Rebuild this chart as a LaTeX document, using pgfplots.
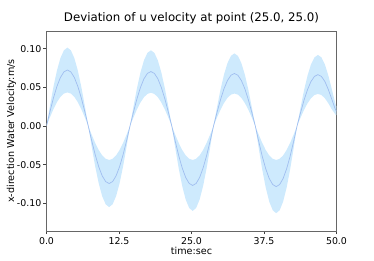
\documentclass[border=0pt]{standalone}
\usepackage{fontspec}
\setmainfont{DejaVu Sans}
\usepackage{pgfplots}
\pgfplotsset{compat=1.18}
\usepackage{pgfplotstable}
\usepgfplotslibrary{fillbetween}
\definecolor{bandc}{RGB}{206,234,253}
\definecolor{meanc}{RGB}{160,190,240}
\pgfplotstableread{
t m h l
0 0 0 0
0.6 .0188 .0263 .0113
1.2 .0363 .0508 .0218
1.8 .0513 .0718 .0308
2.4 .0628 .0879 .0377
3.0 .0700 .0980 .0420
3.6 .0725 .1015 .0435
4.2 .0700 .0980 .0420
4.8 .0628 .0879 .0377
5.4 .0513 .0718 .0308
6.0 .0363 .0508 .0218
6.6 .0188 .0263 .0113
7.2 0 0 0
7.8 -.0193 -.0272 -.0114
8.4 -.0373 -.0525 -.0220
9.0 -.0527 -.0742 -.0311
9.6 -.0645 -.0909 -.0381
10.2 -.0720 -.1014 -.0425
10.8 -.0745 -.1050 -.0440
11.4 -.0720 -.1014 -.0425
12.0 -.0645 -.0909 -.0381
12.6 -.0527 -.0742 -.0311
13.2 -.0373 -.0525 -.0220
13.8 -.0193 -.0272 -.0114
14.4 0 0 0
15.0 .0182 .0254 .0111
15.6 .0353 .0490 .0215
16.2 .0499 .0693 .0304
16.8 .0611 .0849 .0372
17.4 .0681 .0947 .0415
18.0 .0705 .0980 .0430
18.6 .0681 .0947 .0415
19.2 .0611 .0849 .0372
19.8 .0499 .0693 .0304
20.4 .0353 .0490 .0215
21.0 .0182 .0254 .0111
21.6 0 0 0
22.2 -.0199 -.0285 -.0114
22.8 -.0385 -.0550 -.0220
23.4 -.0544 -.0778 -.0311
24.0 -.0667 -.0953 -.0381
24.6 -.0744 -.1062 -.0425
25.2 -.0770 -.1100 -.0440
25.8 -.0744 -.1062 -.0425
26.4 -.0667 -.0953 -.0381
27.0 -.0544 -.0778 -.0311
27.6 -.0385 -.0550 -.0220
28.2 -.0199 -.0285 -.0114
28.8 0 0 0
29.4 .0176 .0243 .0109
30.0 .0340 .0470 .0210
30.6 .0481 .0665 .0297
31.2 .0589 .0814 .0364
31.8 .0657 .0908 .0406
32.4 .0680 .0940 .0420
33.0 .0657 .0908 .0406
33.6 .0589 .0814 .0364
34.2 .0481 .0665 .0297
34.8 .0340 .0470 .0210
35.4 .0176 .0243 .0109
36.0 0 0 0
36.6 -.0203 -.0292 -.0114
37.2 -.0393 -.0565 -.0220
37.8 -.0555 -.0799 -.0311
38.4 -.0680 -.0979 -.0381
39.0 -.0758 -.1091 -.0425
39.6 -.0785 -.1130 -.0440
40.2 -.0758 -.1091 -.0425
40.8 -.0680 -.0979 -.0381
41.4 -.0555 -.0799 -.0311
42.0 -.0393 -.0565 -.0220
42.6 -.0203 -.0292 -.0114
43.2 0 0 0
43.8 .0172 .0238 .0107
44.4 .0333 .0460 .0208
45.0 .0470 .0651 .0293
45.6 .0576 .0797 .0359
46.2 .0642 .0889 .0401
46.8 .0665 .0920 .0415
47.4 .0642 .0889 .0401
48.0 .0576 .0797 .0359
48.6 .0470 .0651 .0293
49.2 .0345 .0475 .0215
49.8 .0215 .0290 .0150
50.0 .0190 .0250 .0140
}\data
\begin{document}
\begin{tikzpicture}
\begin{axis}[
  scale only axis, width=290pt, height=200pt,
  xmin=0, xmax=50, ymin=-0.136, ymax=0.123,
  xtick={0,12.5,25,37.5,50}, ytick={-0.1,-0.05,0,0.05,0.1},
  xticklabels={\hbox{0.0},\hbox{12.5},\hbox{25.0},\hbox{37.5},\hbox{50.0}},
  yticklabels={\hbox{-0.10},\hbox{-0.05},\hbox{0.00},\hbox{0.05},\hbox{0.10}},
  axis line style={black!60, line width=0.8pt},
  tick align=outside, tick pos=left, major tick length=3pt,
  tick style={black!75, line width=0.7pt},
  ticklabel style={font=\fontsize{9.4}{11}\selectfont},
  yticklabel style={inner sep=2pt},
  xlabel={time:sec}, ylabel={x-direction Water Velocity:m/s},
  xlabel style={font=\fontsize{9.6}{11}\selectfont, at={(axis description cs:0.5,-0.118)}, anchor=base},
  ylabel style={font=\fontsize{9.6}{11}\selectfont, at={(axis description cs:-0.112,0.5)}, anchor=base},
  title={Deviation of u velocity at point (25.0, 25.0)},
  title style={font=\fontsize{11.8}{13}\selectfont, at={(axis description cs:0.5,1.0175)}, anchor=base},
]
\addplot[name path=A, draw=none, forget plot] table[x=t, y=h] {\data};
\addplot[name path=B, draw=none, forget plot] table[x=t, y=l] {\data};
\addplot[bandc, draw=none] fill between[of=A and B];
\addplot[meanc, line width=0.7pt] table[x=t, y=m] {\data};
\end{axis}
\path[use as bounding box] (-46.5pt,-29pt) rectangle (327.5pt,231pt);
\end{tikzpicture}
\end{document}
